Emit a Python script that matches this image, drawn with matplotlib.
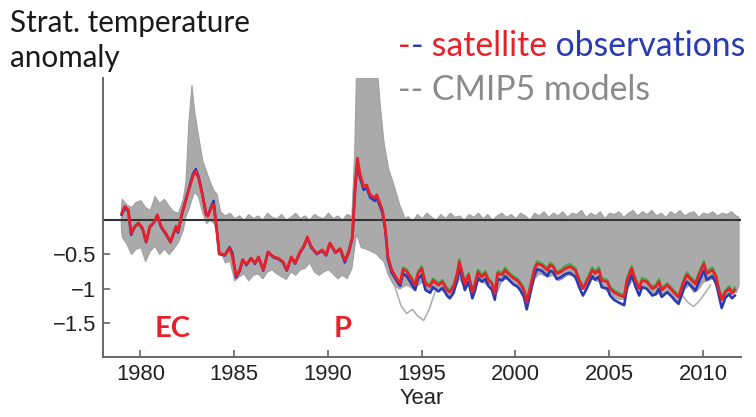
import numpy as np
import matplotlib
matplotlib.use('Agg')
import matplotlib.pyplot as plt

# satellite observations (red / blue / green)
early_years = [1979.0, 1979.16, 1979.35, 1979.5, 1979.7, 1979.9, 1980.1, 1980.3, 1980.5, 1980.7,
               1980.9, 1981.1, 1981.35, 1981.6, 1981.9, 1982.0, 1982.2, 1982.5, 1982.8, 1982.95,
               1983.1, 1983.3, 1983.5, 1983.6, 1983.8, 1983.9, 1984.05, 1984.2, 1984.5, 1984.75,
               1984.9, 1985.1, 1985.3, 1985.45, 1985.65, 1985.9, 1986.1, 1986.3, 1986.55, 1986.8,
               1987.1, 1987.35, 1987.6, 1987.8, 1988.05, 1988.25, 1988.5, 1988.7, 1988.9, 1989.1,
               1989.4, 1989.7, 1989.9, 1990.1, 1990.4, 1990.65, 1990.9, 1991.1, 1991.3, 1991.45,
               1991.57, 1991.7, 1991.9, 1992.07, 1992.25, 1992.5, 1992.6, 1992.9, 1993.05, 1993.2,
               1993.4, 1993.7, 1993.85]
early_red = [0.09, 0.19, 0.14, -0.2, -0.1, -0.05, -0.12, -0.32, -0.1, -0.05,
             0.07, -0.1, -0.2, -0.32, -0.1, -0.17, 0.07, 0.36, 0.63, 0.7,
             0.6, 0.36, 0.07, 0.05, 0.19, 0.22, -0.1, -0.49, -0.51, -0.41,
             -0.53, -0.82, -0.72, -0.58, -0.65, -0.56, -0.63, -0.54, -0.73, -0.47,
             -0.54, -0.56, -0.61, -0.73, -0.54, -0.63, -0.47, -0.39, -0.25, -0.39,
             -0.49, -0.44, -0.51, -0.34, -0.47, -0.42, -0.59, -0.47, -0.25, 0.48,
             0.89, 0.67, 0.48, 0.5, 0.36, 0.31, 0.36, 0.14, -0.1, -0.54,
             -0.73, -0.87, -0.92]
early_blue = [0.07, 0.17, 0.12, -0.22, -0.1, -0.06, -0.13, -0.33, -0.11, -0.05,
              0.06, -0.11, -0.21, -0.33, -0.1, -0.19, 0.07, 0.37, 0.66, 0.73,
              0.62, 0.37, 0.08, 0.06, 0.21, 0.27, -0.1, -0.5, -0.52, -0.4,
              -0.48, -0.84, -0.74, -0.58, -0.66, -0.56, -0.64, -0.55, -0.74, -0.47,
              -0.55, -0.57, -0.62, -0.74, -0.55, -0.64, -0.48, -0.4, -0.27, -0.4,
              -0.5, -0.45, -0.52, -0.35, -0.48, -0.43, -0.62, -0.48, -0.27, 0.45,
              0.85, 0.62, 0.43, 0.46, 0.32, 0.27, 0.32, 0.1, -0.14, -0.58,
              -0.77, -0.9, -0.96]

late_years = [1994.0, 1994.2, 1994.5, 1994.65, 1994.8, 1995.0, 1995.2, 1995.45, 1995.6, 1995.9,
              1996.1, 1996.35, 1996.5, 1996.7, 1996.9, 1997.0, 1997.1, 1997.3, 1997.5, 1997.7,
              1997.85, 1998.0, 1998.2, 1998.4, 1998.55, 1998.75, 1998.9, 1999.05, 1999.3, 1999.45,
              1999.6, 1999.9, 2000.1, 2000.25, 2000.45, 2000.6, 2000.8, 2001.0, 2001.15, 2001.4,
              2001.7, 2001.85, 2002.0, 2002.2, 2002.4, 2002.65, 2002.9, 2003.2, 2003.4, 2003.6,
              2003.8, 2004.1, 2004.25, 2004.45, 2004.6, 2004.9, 2005.05, 2005.25, 2005.5, 2005.8,
              2005.95, 2006.2, 2006.4, 2006.6, 2006.75, 2007.0, 2007.3, 2007.5, 2007.65, 2007.8,
              2008.1, 2008.35, 2008.5, 2008.7, 2009.0, 2009.15, 2009.3, 2009.6, 2009.85, 2010.05,
              2010.2, 2010.5, 2010.7, 2010.85, 2011.0, 2011.2, 2011.4, 2011.55, 2011.7]
late_red = [-0.72, -0.75, -0.88, -0.95, -0.78, -0.71, -0.93, -0.97, -0.88, -0.95,
            -0.9, -1.02, -1.05, -0.97, -0.78, -0.61, -0.71, -0.93, -0.8, -1.05,
            -0.93, -0.76, -0.83, -0.78, -0.88, -0.93, -1.07, -0.78, -0.8, -0.73,
            -0.78, -0.85, -0.88, -0.93, -1.02, -1.2, -0.97, -0.73, -0.64, -0.66,
            -0.73, -0.66, -0.68, -0.78, -0.76, -0.71, -0.68, -0.73, -0.88, -1.0,
            -0.9, -0.73, -0.78, -0.73, -0.88, -0.9, -1.0, -1.05, -1.09, -1.12,
            -0.88, -0.71, -0.88, -1.0, -0.88, -0.9, -1.0, -0.97, -0.9, -1.02,
            -0.95, -1.02, -1.07, -1.12, -0.88, -0.8, -0.85, -0.93, -0.76, -0.64,
            -0.78, -0.73, -0.83, -1.02, -1.16, -1.05, -1.0, -1.07, -1.02]
late_blue = [-0.78, -0.82, -0.95, -1.02, -0.86, -0.8, -1.02, -1.06, -0.98, -1.04,
             -0.99, -1.1, -1.14, -1.06, -0.86, -0.7, -0.8, -1.02, -0.9, -1.14,
             -1.02, -0.84, -0.9, -0.86, -0.96, -1.02, -1.16, -0.86, -0.88, -0.82,
             -0.86, -0.94, -0.97, -1.02, -1.12, -1.3, -1.06, -0.82, -0.72, -0.74,
             -0.82, -0.74, -0.76, -0.86, -0.84, -0.79, -0.77, -0.83, -0.98, -1.1,
             -1.0, -0.82, -0.87, -0.83, -0.98, -1.0, -1.1, -1.16, -1.2, -1.24,
             -0.98, -0.8, -0.97, -1.1, -0.98, -1.0, -1.1, -1.08, -1.0, -1.12,
             -1.05, -1.12, -1.17, -1.22, -0.98, -0.9, -0.94, -1.03, -0.86, -0.74,
             -0.87, -0.82, -0.92, -1.1, -1.28, -1.13, -1.08, -1.14, -1.1]
late_green = [-0.69, -0.72, -0.85, -0.92, -0.75, -0.67, -0.9, -0.94, -0.85, -0.92,
              -0.87, -0.99, -1.02, -0.94, -0.75, -0.57, -0.68, -0.9, -0.77, -1.02,
              -0.9, -0.72, -0.8, -0.74, -0.85, -0.9, -1.04, -0.74, -0.77, -0.69,
              -0.75, -0.82, -0.85, -0.9, -0.99, -1.17, -0.94, -0.7, -0.6, -0.63,
              -0.7, -0.62, -0.65, -0.75, -0.73, -0.67, -0.64, -0.7, -0.85, -0.97,
              -0.87, -0.69, -0.75, -0.69, -0.85, -0.87, -0.97, -1.02, -1.06, -1.09,
              -0.84, -0.67, -0.85, -0.97, -0.84, -0.87, -0.97, -0.94, -0.86, -0.99,
              -0.92, -0.99, -1.04, -1.09, -0.84, -0.76, -0.82, -0.9, -0.72, -0.6,
              -0.75, -0.69, -0.8, -0.99, -1.13, -1.02, -0.96, -1.04, -0.98]

# CMIP5 model spread (upper / lower edge of the grey band)
env_years = [1978.95, 1979.0, 1979.25, 1979.5, 1979.75, 1980.0, 1980.25, 1980.5, 1980.75, 1981.0,
             1981.25, 1981.5, 1981.75, 1982.0, 1982.25, 1982.4, 1982.55, 1982.72, 1982.85, 1983.05,
             1983.3, 1983.5, 1983.7, 1983.9, 1984.05, 1984.25, 1984.5, 1984.75, 1985.0, 1985.25,
             1985.5, 1985.75, 1986.0, 1986.25, 1986.5, 1986.75, 1987.0, 1987.25, 1987.5, 1987.75,
             1988.0, 1988.25, 1988.5, 1988.75, 1989.0, 1989.25, 1989.5, 1989.75, 1990.0, 1990.25,
             1990.5, 1990.75, 1991.0, 1991.25, 1991.4, 1991.5, 1991.75, 1992.0, 1992.25, 1992.6,
             1992.75, 1992.95, 1993.2, 1993.5, 1993.8, 1994.1, 1994.25, 1994.5, 1994.75, 1995.0,
             1995.25, 1995.5, 1995.75, 1996.0, 1996.25, 1996.5, 1996.75, 1997.0, 1997.25, 1997.5,
             1997.75, 1998.0, 1998.25, 1998.5, 1998.75, 1999.0, 1999.25, 1999.5, 1999.75, 2000.0,
             2000.25, 2000.5, 2000.75, 2001.0, 2001.25, 2001.5, 2001.75, 2002.0, 2002.25, 2002.5,
             2002.75, 2003.0, 2003.25, 2003.5, 2003.75, 2004.0, 2004.25, 2004.5, 2004.75, 2005.0,
             2005.25, 2005.5, 2005.75, 2006.0, 2006.25, 2006.5, 2006.75, 2007.0, 2007.25, 2007.5,
             2007.75, 2008.0, 2008.25, 2008.5, 2008.75, 2009.0, 2009.25, 2009.5, 2009.75, 2010.0,
             2010.25, 2010.5, 2010.75, 2011.0, 2011.25, 2011.5, 2011.75, 2011.9]
env_upper = [0.15, 0.3, 0.22, 0.18, 0.26, 0.28, 0.18, 0.14, 0.34, 0.24,
             0.3, 0.2, 0.12, 0.1, 0.3, 0.55, 1.4, 1.95, 1.6, 1.25,
             0.85, 0.7, 0.55, 0.42, 0.38, 0.12, 0.06, 0.1, 0.02, 0.06,
             0.0, 0.08, 0.02, 0.06, 0.0, 0.1, 0.04, 0.02, 0.08, 0.0,
             0.04, 0.1, 0.02, 0.06, 0.0, 0.08, 0.04, 0.02, 0.1, 0.02,
             0.06, 0.0, 0.08, 0.05, 1.0, 2.2, 2.2, 2.2, 2.2, 2.2,
             1.7, 1.15, 0.75, 0.5, 0.22, 0.02, 0.05, -0.02, 0.08, 0.02,
             0.1, 0.04, 0.0, 0.08, 0.02, 0.1, 0.04, 0.06, 0.0, 0.08,
             0.04, 0.1, 0.02, 0.08, 0.0, 0.06, 0.1, 0.04, 0.08, 0.02,
             0.1, 0.06, 0.0, 0.1, 0.06, 0.12, 0.04, 0.1, 0.06, 0.12,
             0.04, 0.1, 0.08, 0.14, 0.04, 0.1, 0.06, 0.12, 0.02, 0.1,
             0.08, 0.12, 0.04, 0.1, 0.14, 0.06, 0.12, 0.08, 0.14, 0.06,
             0.1, 0.04, 0.12, 0.08, 0.14, 0.06, 0.1, 0.12, 0.04, 0.1,
             0.08, 0.12, 0.06, 0.1, 0.08, 0.12, 0.06, 0.04]
env_lower = [-0.1, -0.25, -0.35, -0.5, -0.42, -0.4, -0.6, -0.45, -0.38, -0.5,
             -0.42, -0.5, -0.42, -0.32, -0.15, 0.05, 0.15, 0.3, 0.4, 0.35,
             0.1, -0.05, 0.0, -0.05, -0.2, -0.45, -0.62, -0.6, -0.88, -0.82,
             -0.78, -0.88, -0.8, -0.78, -0.85, -0.75, -0.72, -0.78, -0.82, -0.86,
             -0.75, -0.8, -0.72, -0.7, -0.62, -0.75, -0.8, -0.75, -0.72, -0.78,
             -0.85, -0.8, -0.85, -0.7, -0.4, -0.2, -0.4, -0.42, -0.45, -0.5,
             -0.55, -0.6, -0.8, -0.95, -1.0, -0.95, -0.95, -1.0, -0.95, -0.9,
             -1.0, -1.02, -0.98, -1.0, -1.05, -1.1, -1.0, -0.85, -0.98, -0.95,
             -1.08, -0.88, -0.9, -0.95, -1.0, -1.05, -0.88, -0.85, -0.9, -0.95,
             -1.0, -1.1, -1.05, -0.85, -0.78, -0.8, -0.82, -0.8, -0.88, -0.85,
             -0.8, -0.8, -0.88, -1.0, -1.0, -0.85, -0.88, -0.9, -1.0, -1.05,
             -1.12, -1.15, -1.15, -0.98, -0.85, -1.0, -0.98, -1.0, -1.08, -1.05,
             -1.1, -1.05, -1.1, -1.15, -1.18, -1.0, -0.95, -1.05, -1.0, -0.9,
             -0.88, -0.85, -1.0, -1.15, -1.1, -1.05, -1.05, -0.95]

# a few single model runs that stick out below the band
low_run_years = [1993.0, 1993.3, 1993.6, 1993.9, 1994.2, 1994.5, 1994.8, 1995.1, 1995.4, 1995.7, 1996.0]
low_run_vals = [-0.4, -0.7, -1.0, -1.25, -1.36, -1.3, -1.4, -1.46, -1.3, -1.05, -0.95]
low_run2_years = [2008.6, 2008.9, 2009.2, 2009.5, 2009.8, 2010.1, 2010.4]
low_run2_vals = [-1.0, -1.1, -1.2, -1.26, -1.18, -1.07, -0.95]

xtick_vals = [1980, 1985, 1990, 1995, 2000, 2005, 2010]
ytick_vals = [-1.5, -1, -0.5]
ytick_labels = ['\u22121.5', '\u22121', '\u22120.5']

obs_years = early_years + late_years
red_vals = early_red + late_red
blue_vals = early_blue + late_blue

RED = '#e8202a'
BLUE = '#2a3bb2'
GREEN = '#3cb04a'
GREY = '#aaaaaa'

fig = plt.figure(figsize=(7.56, 4.17), dpi=100)
ax = fig.add_axes([103 / 756, 60 / 417, 638 / 756, 279 / 417])

ax.fill_between(env_years, env_lower, env_upper, color=GREY, lw=0.8, edgecolor='#a0a0a0')
ax.plot(low_run_years, low_run_vals, color='#b0b0b0', lw=1.2)
ax.plot(low_run2_years, low_run2_vals, color='#b0b0b0', lw=1.2)
ax.axhline(0, color='#333333', lw=1.5)

ax.plot(late_years, late_green, color=GREEN, lw=1.5)
ax.plot(obs_years, blue_vals, color=BLUE, lw=1.9)
ax.plot(obs_years, red_vals, color=RED, lw=2.0)

ax.set_xlim(1978, 2012.03)
ax.set_ylim(-1.99, 2.05)
for s in ['top', 'right']:
    ax.spines[s].set_visible(False)
for s in ['left', 'bottom']:
    ax.spines[s].set_color('#666666')
    ax.spines[s].set_linewidth(1.4)
ax.set_xticks(xtick_vals)
ax.set_yticks(ytick_vals)
ax.set_yticklabels(ytick_labels)
ax.tick_params(direction='in', length=5, width=1.2, color='#666666',
               labelcolor='#222222', labelsize=15.8, pad=5)
for lab in ax.get_xticklabels() + ax.get_yticklabels():
    lab.set_family('Liberation Sans')
ax.set_xlabel('Year', fontsize=15.8, family='Liberation Sans', color='#222222', labelpad=2)

ax.text(1981.7, -1.59, 'EC', color=RED, fontsize=21, fontweight='bold',
        family='Lato', ha='center', va='center')
ax.text(1990.8, -1.59, 'P', color=RED, fontsize=21, fontweight='bold',
        family='Lato', ha='center', va='center')

# title and coloured legend text
fig.text(10 / 756, 1 - 32 / 417, 'Strat. temperature', fontsize=21.3, family='Lato',
         color='#1a1a1a', va='baseline')
fig.text(10 / 756, 1 - 67 / 417, 'anomaly', fontsize=21.3, family='Lato',
         color='#1a1a1a', va='baseline')

renderer = fig.canvas.get_renderer()


def put_pieces(x, y, pieces, size):
    for s, c in pieces:
        t = fig.text(x, y, s, color=c, fontsize=size, family='Lato', va='baseline')
        bb = t.get_window_extent(renderer)
        x += bb.width / fig.bbox.width


put_pieces(398 / 756, 1 - 56 / 417,
           [('-', RED), ('-', BLUE), (' satellite', RED), (' observations', BLUE)], 24.3)
put_pieces(398 / 756, 1 - 100 / 417, [('-- CMIP5 models', '#8a8a8a')], 24.3)

fig.savefig('out.png', dpi=100)
